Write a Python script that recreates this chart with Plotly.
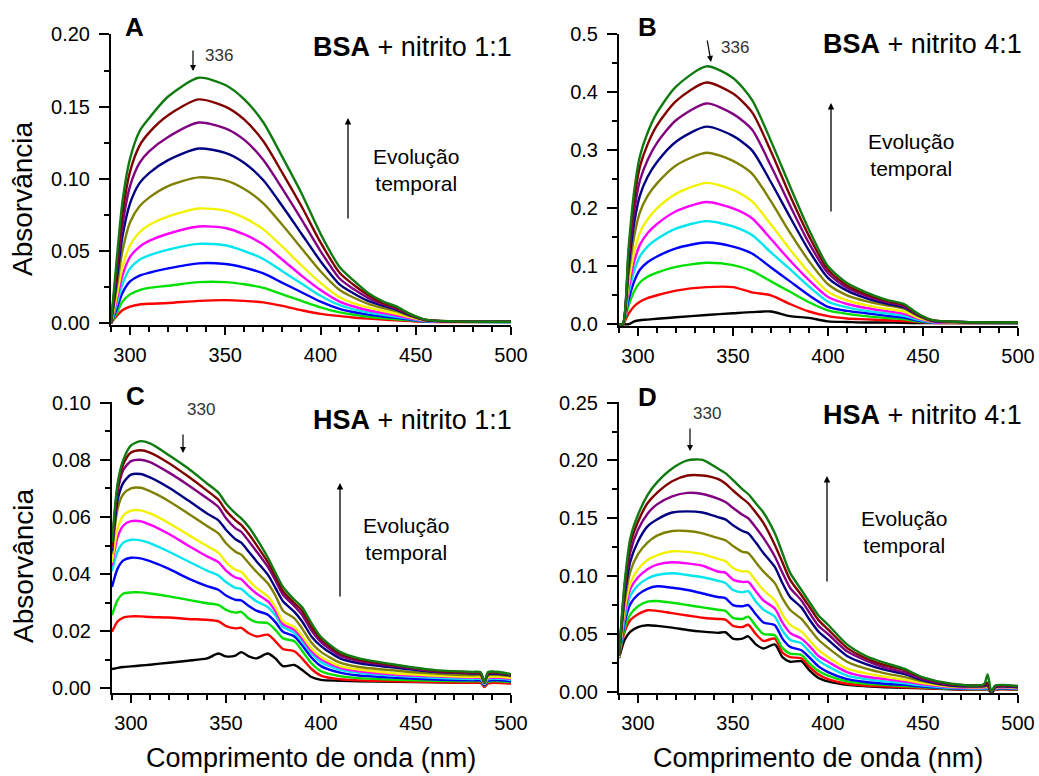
import plotly.graph_objects as go

# ---------------- data ----------------
SERIES_NAMES = ["t0", "t1", "t2", "t3", "t4", "t5", "t6", "t7", "t8", "t9", "t10", "t11"]
SERIES_COLORS = ["#000000", "#FF0000", "#00E000", "#0000FF", "#00E5EE", "#FF00FF",
                 "#F2F200", "#808000", "#000080", "#800080", "#800000", "#0F7A0F"]

# Panel A: BSA + nitrito 1:1 (11 spectra, no t0)
wl_a = [290, 293, 296, 300, 305, 310, 320, 336, 350, 360, 370, 380, 390, 400, 410,
        417, 425, 433, 440, 447, 455, 470, 500]
abs_a = [
    [0.000, 0.005, 0.009, 0.0115, 0.013, 0.0135, 0.014, 0.0155, 0.016, 0.0155, 0.0145, 0.012,
     0.009, 0.0065, 0.005, 0.004, 0.0032, 0.0025, 0.002, 0.0015, 0.001, 0.0008, 0.0008],
    [0.000, 0.007, 0.015, 0.020, 0.023, 0.0245, 0.026, 0.0285, 0.0285, 0.027, 0.0245, 0.020,
     0.0155, 0.011, 0.0075, 0.006, 0.0045, 0.0035, 0.0028, 0.002, 0.0012, 0.001, 0.0008],
    [0.000, 0.010, 0.021, 0.029, 0.033, 0.035, 0.038, 0.0415, 0.041, 0.0385, 0.0345, 0.028,
     0.0215, 0.015, 0.010, 0.0078, 0.006, 0.0047, 0.0037, 0.0025, 0.0013, 0.001, 0.0009],
    [0.000, 0.013, 0.027, 0.038, 0.044, 0.047, 0.051, 0.055, 0.054, 0.050, 0.0445, 0.036,
     0.0275, 0.019, 0.0125, 0.0098, 0.0075, 0.0058, 0.0045, 0.003, 0.0015, 0.001, 0.0009],
    [0.000, 0.016, 0.033, 0.046, 0.053, 0.057, 0.062, 0.067, 0.066, 0.0615, 0.0545, 0.044,
     0.033, 0.023, 0.015, 0.0118, 0.009, 0.007, 0.0054, 0.0035, 0.0017, 0.0011, 0.001],
    [0.000, 0.019, 0.039, 0.054, 0.063, 0.068, 0.074, 0.0795, 0.078, 0.073, 0.065, 0.053,
     0.040, 0.028, 0.018, 0.014, 0.011, 0.0085, 0.0066, 0.0042, 0.002, 0.0012, 0.001],
    [0.000, 0.025, 0.050, 0.070, 0.081, 0.087, 0.095, 0.101, 0.099, 0.093, 0.083, 0.068,
     0.052, 0.036, 0.023, 0.018, 0.0135, 0.0105, 0.0082, 0.005, 0.0022, 0.0012, 0.001],
    [0.000, 0.030, 0.060, 0.083, 0.097, 0.104, 0.113, 0.121, 0.118, 0.111, 0.099, 0.081,
     0.062, 0.043, 0.027, 0.021, 0.0155, 0.012, 0.0093, 0.0055, 0.0022, 0.0012, 0.001],
    [0.000, 0.035, 0.068, 0.095, 0.111, 0.119, 0.129, 0.139, 0.135, 0.127, 0.113, 0.093,
     0.072, 0.050, 0.031, 0.024, 0.0175, 0.013, 0.010, 0.006, 0.0023, 0.0012, 0.001],
    [0.000, 0.039, 0.076, 0.105, 0.123, 0.132, 0.144, 0.155, 0.150, 0.141, 0.126, 0.104,
     0.081, 0.056, 0.035, 0.027, 0.0195, 0.014, 0.0108, 0.0062, 0.0024, 0.0012, 0.001],
    [0.000, 0.044, 0.084, 0.114, 0.133, 0.142, 0.157, 0.170, 0.165, 0.155, 0.139, 0.115,
     0.090, 0.062, 0.039, 0.030, 0.021, 0.015, 0.0115, 0.0065, 0.0025, 0.0013, 0.001],
]

# Panel B: BSA + nitrito 4:1
wl_b = [290, 292, 295, 298, 301, 305, 310, 320, 336, 350, 360, 370, 380, 390, 400, 410,
        420, 430, 440, 447, 455, 470, 500]
abs_b = [
    [0, 0, 0, 0.005, 0.007, 0.008, 0.0095, 0.012, 0.016, 0.019, 0.021, 0.022, 0.014, 0.011,
     0.005, 0.004, 0.003, 0.003, 0.0025, 0.002, 0.002, 0.002, 0.002],
    [0, 0, 0.018, 0.031, 0.039, 0.045, 0.050, 0.058, 0.064, 0.064, 0.055, 0.050, 0.035, 0.022,
     0.014, 0.010, 0.0085, 0.007, 0.0057, 0.004, 0.0025, 0.002, 0.002],
    [0, 0, 0.032, 0.057, 0.072, 0.082, 0.089, 0.099, 0.106, 0.102, 0.092, 0.074, 0.056, 0.038,
     0.024, 0.018, 0.014, 0.011, 0.0085, 0.005, 0.003, 0.0025, 0.002],
    [0, 0, 0.042, 0.074, 0.094, 0.107, 0.117, 0.131, 0.141, 0.134, 0.122, 0.098, 0.074, 0.050,
     0.030, 0.023, 0.019, 0.015, 0.0115, 0.0065, 0.003, 0.0025, 0.002],
    [0, 0, 0.052, 0.092, 0.117, 0.134, 0.147, 0.165, 0.178, 0.169, 0.154, 0.124, 0.095, 0.065,
     0.039, 0.029, 0.023, 0.019, 0.0145, 0.008, 0.0035, 0.003, 0.0025],
    [0, 0, 0.060, 0.108, 0.137, 0.157, 0.173, 0.195, 0.211, 0.200, 0.183, 0.147, 0.110, 0.076,
     0.047, 0.035, 0.028, 0.023, 0.018, 0.010, 0.004, 0.003, 0.0025],
    [0, 0, 0.070, 0.125, 0.158, 0.181, 0.200, 0.225, 0.244, 0.232, 0.212, 0.172, 0.129, 0.089,
     0.056, 0.041, 0.033, 0.027, 0.022, 0.012, 0.005, 0.0035, 0.003],
    [0, 0, 0.085, 0.152, 0.193, 0.221, 0.243, 0.274, 0.296, 0.282, 0.260, 0.212, 0.158, 0.109,
     0.069, 0.050, 0.040, 0.033, 0.027, 0.015, 0.005, 0.0035, 0.003],
    [0, 0, 0.098, 0.175, 0.222, 0.254, 0.280, 0.315, 0.341, 0.325, 0.300, 0.245, 0.185, 0.127,
     0.080, 0.058, 0.045, 0.036, 0.029, 0.016, 0.006, 0.004, 0.003],
    [0, 0, 0.110, 0.195, 0.248, 0.283, 0.313, 0.352, 0.381, 0.363, 0.336, 0.273, 0.205, 0.140,
     0.088, 0.063, 0.049, 0.039, 0.031, 0.017, 0.006, 0.004, 0.003],
    [0, 0, 0.120, 0.215, 0.272, 0.310, 0.343, 0.385, 0.417, 0.398, 0.366, 0.298, 0.222, 0.152,
     0.094, 0.067, 0.052, 0.041, 0.033, 0.018, 0.007, 0.004, 0.003],
    [0, 0, 0.130, 0.230, 0.290, 0.330, 0.365, 0.410, 0.445, 0.425, 0.387, 0.316, 0.238, 0.163,
     0.100, 0.071, 0.055, 0.043, 0.035, 0.019, 0.007, 0.004, 0.003],
]

# Panel C: HSA + nitrito 1:1
wl_c = [290, 293, 296, 300, 305, 310, 320, 330, 340, 346, 350, 355, 358, 362, 366, 372,
        376, 380, 386, 390, 395, 400, 410, 420, 440, 460, 480, 484, 486, 488, 500]
abs_c = [
    [0.0068, 0.0072, 0.0075, 0.0077, 0.008, 0.0083, 0.009, 0.0097, 0.0105, 0.0122, 0.0112,
     0.0115, 0.0127, 0.0112, 0.0105, 0.0122, 0.0105, 0.0078, 0.0082, 0.0065, 0.004, 0.003,
     0.0027, 0.0025, 0.0023, 0.0021, 0.002, 0.002, 0.0015, 0.002, 0.0019],
    [0.0198, 0.0235, 0.0248, 0.0252, 0.0252, 0.025, 0.0248, 0.0243, 0.024, 0.0235, 0.0218,
     0.021, 0.0212, 0.0193, 0.0182, 0.0188, 0.0165, 0.0138, 0.013, 0.0105, 0.0068, 0.0045,
     0.0032, 0.0028, 0.0025, 0.0022, 0.002, 0.002, 0.0005, 0.0018, 0.0017],
    [0.0256, 0.031, 0.0332, 0.0336, 0.0336, 0.0332, 0.0322, 0.031, 0.0298, 0.0292, 0.0275,
     0.0265, 0.0268, 0.0245, 0.0232, 0.0228, 0.0205, 0.0175, 0.0165, 0.0132, 0.0088, 0.006,
     0.0043, 0.0036, 0.003, 0.0027, 0.0025, 0.0025, 0.001, 0.0024, 0.0022],
    [0.0355, 0.042, 0.0448, 0.0457, 0.0455, 0.0445, 0.0418, 0.0385, 0.0358, 0.0345, 0.0325,
     0.031, 0.0308, 0.0288, 0.0272, 0.0258, 0.0232, 0.0198, 0.0182, 0.0152, 0.0108, 0.0078,
     0.0055, 0.0045, 0.0037, 0.0031, 0.0028, 0.0028, 0.0012, 0.0027, 0.0025],
    [0.041, 0.048, 0.051, 0.052, 0.0518, 0.0508, 0.0478, 0.0445, 0.0412, 0.0395, 0.0372,
     0.0352, 0.0348, 0.0325, 0.0305, 0.0285, 0.0255, 0.0215, 0.0195, 0.0165, 0.0122, 0.0092,
     0.0065, 0.0055, 0.0044, 0.0037, 0.0033, 0.0033, 0.0015, 0.0032, 0.003],
    [0.043, 0.053, 0.057, 0.0585, 0.0585, 0.0573, 0.054, 0.050, 0.0462, 0.0442, 0.0412,
     0.0388, 0.0382, 0.0355, 0.0332, 0.0305, 0.027, 0.0225, 0.0205, 0.0175, 0.013, 0.0102,
     0.0072, 0.006, 0.0048, 0.0042, 0.0037, 0.0037, 0.0017, 0.0036, 0.0034],
    [0.044, 0.056, 0.0605, 0.0622, 0.0623, 0.0612, 0.0578, 0.0538, 0.0498, 0.0475, 0.0442,
     0.0415, 0.0408, 0.0378, 0.0352, 0.0322, 0.0285, 0.0235, 0.0215, 0.0185, 0.014, 0.011,
     0.0078, 0.0066, 0.0052, 0.0045, 0.004, 0.004, 0.0018, 0.0039, 0.0037],
    [0.047, 0.063, 0.068, 0.070, 0.0702, 0.069, 0.0655, 0.0612, 0.0568, 0.0542, 0.0508,
     0.0478, 0.0468, 0.0438, 0.0408, 0.0368, 0.0325, 0.0272, 0.0245, 0.021, 0.016, 0.0128,
     0.009, 0.0075, 0.0062, 0.0052, 0.0046, 0.0046, 0.002, 0.0045, 0.0043],
    [0.048, 0.066, 0.072, 0.0748, 0.075, 0.0738, 0.0702, 0.0658, 0.0612, 0.0588, 0.0555,
     0.0522, 0.051, 0.0478, 0.0445, 0.0398, 0.0352, 0.0305, 0.0268, 0.0235, 0.0182, 0.0148,
     0.0105, 0.0088, 0.0072, 0.0058, 0.0052, 0.0051, 0.0022, 0.005, 0.0045],
    [0.049, 0.069, 0.0765, 0.0795, 0.080, 0.0792, 0.0755, 0.0712, 0.0665, 0.0635, 0.0595,
     0.056, 0.0548, 0.0515, 0.048, 0.0425, 0.0378, 0.0328, 0.0288, 0.0258, 0.0202, 0.0162,
     0.0115, 0.0096, 0.0077, 0.006, 0.0054, 0.0053, 0.002, 0.0052, 0.0047],
    [0.050, 0.0705, 0.0785, 0.0825, 0.0833, 0.0825, 0.0788, 0.0742, 0.0692, 0.066, 0.0622,
     0.0588, 0.0572, 0.054, 0.0502, 0.0442, 0.0392, 0.034, 0.0298, 0.0272, 0.0215, 0.0172,
     0.0122, 0.010, 0.008, 0.0062, 0.0056, 0.0055, 0.002, 0.0054, 0.0048],
    [0.051, 0.072, 0.080, 0.085, 0.0865, 0.0857, 0.0816, 0.077, 0.0717, 0.0685, 0.0647,
     0.0612, 0.0595, 0.0565, 0.0525, 0.0458, 0.0405, 0.0355, 0.031, 0.0285, 0.0228, 0.018,
     0.0128, 0.0105, 0.0082, 0.0064, 0.0058, 0.0057, 0.002, 0.0057, 0.005],
]

# Panel D: HSA + nitrito 4:1
wl_d = [290, 293, 296, 300, 305, 310, 318, 326, 334, 342, 346, 350, 355, 358, 362, 366,
        372, 376, 380, 386, 390, 395, 400, 410, 420, 430, 440, 450, 465, 482, 484, 486,
        488, 500]
abs_d = [
    [0.029, 0.045, 0.052, 0.056, 0.0575, 0.057, 0.0555, 0.0535, 0.052, 0.051, 0.0515, 0.046,
     0.046, 0.048, 0.041, 0.0375, 0.041, 0.030, 0.026, 0.0265, 0.019, 0.012, 0.009, 0.006,
     0.0048, 0.004, 0.0035, 0.003, 0.0022, 0.002, 0.0022, -0.001, 0.002, 0.002],
    [0.030, 0.052, 0.062, 0.067, 0.0705, 0.070, 0.068, 0.066, 0.064, 0.063, 0.0625, 0.057,
     0.056, 0.058, 0.050, 0.044, 0.046, 0.034, 0.030, 0.029, 0.022, 0.015, 0.011, 0.007,
     0.0055, 0.0047, 0.004, 0.0033, 0.0025, 0.0022, 0.0025, -0.001, 0.002, 0.002],
    [0.030, 0.055, 0.067, 0.074, 0.078, 0.0785, 0.077, 0.075, 0.073, 0.071, 0.070, 0.064,
     0.063, 0.065, 0.057, 0.050, 0.049, 0.038, 0.033, 0.032, 0.025, 0.018, 0.014, 0.009,
     0.007, 0.006, 0.005, 0.004, 0.0028, 0.0025, 0.0028, -0.001, 0.0023, 0.0023],
    [0.030, 0.060, 0.076, 0.084, 0.089, 0.0912, 0.090, 0.088, 0.085, 0.082, 0.081, 0.075,
     0.074, 0.075, 0.067, 0.060, 0.0576, 0.046, 0.039, 0.036, 0.030, 0.022, 0.017, 0.011,
     0.0085, 0.007, 0.006, 0.0045, 0.003, 0.0028, 0.003, -0.001, 0.0025, 0.0025],
    [0.030, 0.064, 0.083, 0.092, 0.098, 0.101, 0.1025, 0.101, 0.099, 0.096, 0.094, 0.088,
     0.086, 0.087, 0.078, 0.071, 0.065, 0.053, 0.045, 0.042, 0.035, 0.027, 0.022, 0.014,
     0.011, 0.009, 0.0075, 0.0055, 0.0035, 0.003, 0.0035, -0.001, 0.0028, 0.0028],
    [0.030, 0.068, 0.089, 0.099, 0.106, 0.110, 0.112, 0.111, 0.109, 0.104, 0.103, 0.097,
     0.095, 0.095, 0.087, 0.079, 0.072, 0.060, 0.051, 0.046, 0.040, 0.031, 0.026, 0.017,
     0.013, 0.011, 0.009, 0.0065, 0.004, 0.0035, 0.004, -0.001, 0.003, 0.003],
    [0.030, 0.072, 0.094, 0.106, 0.114, 0.118, 0.1215, 0.121, 0.119, 0.115, 0.113, 0.107,
     0.104, 0.104, 0.096, 0.088, 0.079, 0.067, 0.058, 0.052, 0.045, 0.036, 0.030, 0.020,
     0.016, 0.013, 0.0105, 0.0075, 0.0045, 0.004, 0.0045, -0.001, 0.0035, 0.0035],
    [0.031, 0.078, 0.104, 0.119, 0.129, 0.135, 0.139, 0.139, 0.137, 0.133, 0.131, 0.126,
     0.121, 0.120, 0.112, 0.104, 0.094, 0.081, 0.071, 0.063, 0.055, 0.045, 0.038, 0.026,
     0.020, 0.016, 0.013, 0.009, 0.005, 0.0045, 0.005, -0.001, 0.0038, 0.0038],
    [0.031, 0.083, 0.113, 0.130, 0.143, 0.149, 0.155, 0.156, 0.155, 0.151, 0.149, 0.144,
     0.139, 0.137, 0.129, 0.120, 0.108, 0.094, 0.082, 0.073, 0.063, 0.052, 0.045, 0.031,
     0.024, 0.019, 0.0155, 0.010, 0.0055, 0.005, 0.006, -0.001, 0.004, 0.004],
    [0.031, 0.088, 0.121, 0.140, 0.154, 0.162, 0.169, 0.172, 0.171, 0.167, 0.164, 0.159,
     0.153, 0.150, 0.142, 0.133, 0.117, 0.103, 0.090, 0.079, 0.069, 0.057, 0.050, 0.035,
     0.027, 0.021, 0.017, 0.011, 0.006, 0.0055, 0.007, -0.001, 0.0045, 0.0045],
    [0.031, 0.092, 0.128, 0.147, 0.163, 0.172, 0.182, 0.187, 0.187, 0.184, 0.180, 0.174,
     0.167, 0.163, 0.155, 0.146, 0.127, 0.112, 0.097, 0.0835, 0.074, 0.062, 0.054, 0.038,
     0.029, 0.023, 0.019, 0.012, 0.0065, 0.006, 0.008, 0.0, 0.005, 0.0048],
    [0.031, 0.095, 0.133, 0.153, 0.170, 0.181, 0.193, 0.200, 0.2005, 0.193, 0.189, 0.183,
     0.175, 0.171, 0.163, 0.155, 0.137, 0.120, 0.103, 0.088, 0.078, 0.066, 0.058, 0.041,
     0.031, 0.025, 0.020, 0.0125, 0.007, 0.0065, 0.015, 0.0, 0.0055, 0.005],
]

x_ticks = [300, 350, 400, 450, 500]

# ---------------- figure ----------------
W, H = 1039, 776
FONT = "Arial, 'Liberation Sans', Helvetica, sans-serif"

fig = go.Figure()

panels = [
    # (xaxis id, yaxis id, wavelengths, spectra, first color index)
    ("x", "y", wl_a, abs_a, 1),
    ("x2", "y2", wl_b, abs_b, 0),
    ("x3", "y3", wl_c, abs_c, 0),
    ("x4", "y4", wl_d, abs_d, 0),
]
for xa, ya, wl, spectra, c0 in panels:
    for i, spec in enumerate(spectra):
        k = c0 + i
        fig.add_trace(go.Scatter(
            x=wl, y=spec, mode="lines", name=SERIES_NAMES[k],
            line=dict(color=SERIES_COLORS[k], width=2.4, shape="spline", smoothing=0.7),
            xaxis=xa, yaxis=ya, showlegend=False, hoverinfo="skip"))


def px_x(p):
    return p / W


def px_y(p):
    return 1 - p / H


def xaxis_cfg(x0, x1, anchor):
    return dict(
        domain=[px_x(x0), px_x(x1)], anchor=anchor, range=[290, 500],
        tickvals=x_ticks, ticks="outside", ticklen=8, tickwidth=2, tickcolor="black",
        minor=dict(dtick=10, tick0=290, ticks="outside", ticklen=5, tickwidth=2,
                   tickcolor="black"),
        showline=True, linecolor="black", linewidth=2, showgrid=False, zeroline=False,
        tickfont=dict(family=FONT, size=20, color="black"), ticklabelstandoff=3)


def yaxis_cfg(y0, y1, anchor, rng, dtick, minor, fmt):
    return dict(
        domain=[px_y(y1), px_y(y0)], anchor=anchor, range=rng,
        dtick=dtick, tick0=0, tickformat=fmt, ticks="outside", ticklen=10, tickwidth=2,
        tickcolor="black",
        minor=dict(dtick=minor, tick0=0, ticks="outside", ticklen=5, tickwidth=2,
                   tickcolor="black"),
        showline=True, linecolor="black", linewidth=2, showgrid=False, zeroline=False,
        tickfont=dict(family=FONT, size=20, color="black"), ticklabelstandoff=5)


fig.update_layout(
    width=W, height=H,
    margin=dict(l=0, r=0, t=0, b=0, autoexpand=False),
    paper_bgcolor="white", plot_bgcolor="white",
    font=dict(family=FONT, color="black"),
    xaxis=xaxis_cfg(111, 511, "y"),
    yaxis=yaxis_cfg(34, 325, "x", [-0.0012, 0.2003], 0.05, 0.025, ".2f"),
    xaxis2=xaxis_cfg(619, 1018, "y2"),
    yaxis2=yaxis_cfg(34, 326, "x2", [-0.003, 0.5008], 0.1, 0.05, ".1f"),
    xaxis3=xaxis_cfg(112, 511, "y3"),
    yaxis3=yaxis_cfg(402, 693, "x3", [-0.0016, 0.1002], 0.02, 0.01, ".2f"),
    xaxis4=xaxis_cfg(619, 1018, "y4"),
    yaxis4=yaxis_cfg(402, 693, "x4", [-0.001, 0.2505], 0.05, 0.025, ".2f"),
)

ann = []


def text(x, y, s, size, xanchor="center", color="black", angle=0):
    ann.append(dict(x=px_x(x), y=px_y(y), xref="paper", yref="paper", text=s,
                    showarrow=False, xanchor=xanchor, yanchor="middle", textangle=angle,
                    font=dict(family=FONT, size=size, color=color)))


def arrow(xt, yt, xs, ys, width=1.3, size=1.0):
    ann.append(dict(x=px_x(xt), y=px_y(yt), xref="paper", yref="paper", text="",
                    showarrow=True, ax=xs - xt, ay=ys - yt, axref="pixel", ayref="pixel",
                    arrowhead=2, arrowsize=size, arrowwidth=width, arrowcolor="black"))


# panel letters
text(134, 27, "<b>A</b>", 26)
text(647, 27, "<b>B</b>", 26)
text(135, 396, "<b>C</b>", 26)
text(647, 397, "<b>D</b>", 26)

# panel titles
text(514, 47, "<b>BSA</b> + nitrito 1:1", 27, xanchor="right")
text(1024, 44, "<b>BSA</b> + nitrito 4:1", 27, xanchor="right")
text(514, 420, "<b>HSA</b> + nitrito 1:1", 27, xanchor="right")
text(1024, 415, "<b>HSA</b> + nitrito 4:1", 27, xanchor="right")

# time-evolution notes and arrows
text(416, 170, "Evolução<br>temporal", 21)
text(911, 155, "Evolução<br>temporal", 21)
text(406, 539, "Evolução<br>temporal", 21)
text(904, 532, "Evolução<br>temporal", 21)
arrow(348, 118, 348, 220)
arrow(831, 103, 831, 213)
arrow(340, 483, 340, 598)
arrow(827, 476, 827, 583)

# band maximum markers
text(219, 56, "336", 17, color="#333333")
text(735, 47, "336", 17, color="#333333")
text(201, 409, "330", 17, color="#333333")
text(707, 413, "330", 17, color="#333333")
arrow(193, 71, 193, 49, width=1.2)
arrow(711, 62, 707, 39, width=1.2)
arrow(183, 453, 183, 433, width=1.2)
arrow(690, 451, 690, 427, width=1.2)

# axis titles
text(23, 199, "Absorvância", 28, angle=-90)
text(23, 566, "Absorvância", 28, angle=-90)
text(311, 758, "Comprimento de onda (nm)", 27)
text(818, 758, "Comprimento de onda (nm)", 27)

fig.update_layout(annotations=ann)
fig.write_html("out.html")
